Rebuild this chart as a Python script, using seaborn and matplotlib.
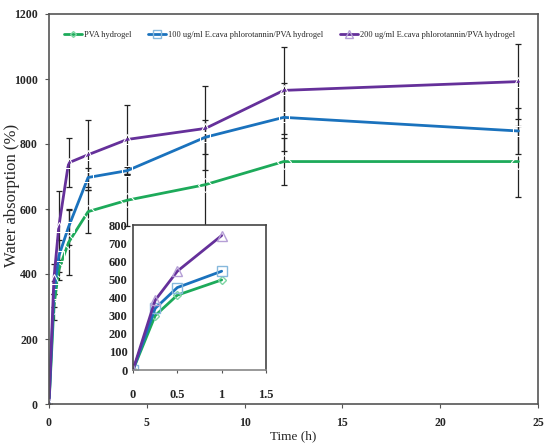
import numpy as np
import pandas as pd
import seaborn as sns
from matplotlib import pyplot as plt

# sampling times (h)
time_h = [0, 0.25, 0.5, 1, 2, 4, 8, 12, 24]

pva = [0, 300, 413, 497, 592, 627, 675, 746, 746]
pva_100 = [0, 340, 455, 545, 697, 718, 821, 882, 840]
pva_200 = [0, 385, 545, 742, 767, 814, 848, 965, 992]

pva_err = [0, 40, 30, 100, 67, 80, 145, 73, 108]
pva_100_err = [0, 40, 50, 55, 28, 12, 52, 105, 70]
pva_200_err = [0, 45, 110, 75, 108, 105, 129, 133, 115]

names = ["PVA hydrogel",
         "100 ug/ml E.cava phlorotannin/PVA hydrogel",
         "200 ug/ml E.cava phlorotannin/PVA hydrogel"]
line_cols = ["#1daa5a", "#1a72bd", "#65309a"]
mk_cols = ["#7fd6a4", "#86b8dc", "#b59fd6"]
markers = ["D", "s", "^"]
msizes = [4, 7, 7]

sns.set_style("white")
plt.rcParams['font.family'] = ['Liberation Serif', 'DejaVu Serif']

df = pd.DataFrame({
    "Time": time_h * 3,
    "Absorption": pva + pva_100 + pva_200,
    "Sample": [names[0]] * 9 + [names[1]] * 9 + [names[2]] * 9,
})

fig = plt.figure(figsize=(5.55, 4.48), dpi=100)
W, H = 555, 448
ax = fig.add_axes([49 / W, (H - 404) / H, (538 - 49) / W, (404 - 14) / H])

# error bars first, under the lines
for vals, errs in [(pva, pva_err), (pva_100, pva_100_err), (pva_200, pva_200_err)]:
    ax.errorbar(time_h, vals, yerr=errs, fmt="none", ecolor="#222222",
                elinewidth=0.9, capsize=2, capthick=0.9, zorder=1)

sns.lineplot(data=df, x="Time", y="Absorption", hue="Sample", style="Sample",
             palette=line_cols, markers=markers, dashes=False, ax=ax,
             linewidth=2, markersize=7, markerfacecolor="none", zorder=2)
for ln, c, s in zip(ax.lines[-3:], mk_cols, msizes):
    ln.set_markeredgecolor(c)
    ln.set_markersize(s)
    ln.set_markeredgewidth(1)

ax.set_xlim(0, 25)
ax.set_ylim(0, 1200)
ax.set_xticks(np.arange(0, 26, 5))
ax.set_yticks(np.arange(0, 1201, 200))
ax.set_xlabel("Time (h)", fontsize=9.5, labelpad=1)
ax.set_ylabel("Water absorption (%)", fontsize=12)
ax.yaxis.set_label_coords(-0.059, 0.536)
ax.tick_params(labelsize=8.5, length=3, width=0.8, color="#555555", direction="out",
               bottom=True, left=True)
ax.tick_params(axis="x", pad=6)
ax.tick_params(axis="y", pad=5)
for t in ax.get_xticklabels() + ax.get_yticklabels():
    t.set_fontweight("bold")
for sp in ax.spines.values():
    sp.set_color("#555555")
    sp.set_linewidth(1.2)

handles, labels = ax.get_legend_handles_labels()
for h, c, s in zip(handles, mk_cols, msizes):
    h.set_markeredgecolor(c)
    h.set_markersize(s - 1)
ax.legend(handles, labels, loc="upper left", ncol=3, frameon=False,
          fontsize=6, handlelength=2.2, handletextpad=0.2, columnspacing=2.0,
          bbox_to_anchor=(0.015, 0.975))

# inset: first hour
ins = fig.add_axes([133 / W, (H - 370) / H, 133 / W, (370 - 225) / H])
sub = df[df["Time"] <= 1]
sns.lineplot(data=sub, x="Time", y="Absorption", hue="Sample", style="Sample",
             palette=line_cols, markers=markers, dashes=False, ax=ins,
             linewidth=2, markersize=7, markerfacecolor="none", legend=False)
for ln, c, s in zip(ins.lines, mk_cols, msizes):
    ln.set_markeredgecolor(c)
    ln.set_markersize(s)
    ln.set_markeredgewidth(1)
ins.set_xlim(0, 1.5)
ins.set_ylim(0, 800)
ins.set_xticks([0, 0.5, 1, 1.5])
ins.set_xticklabels(["0", "0.5", "1", "1.5"])
ins.set_yticks(np.arange(0, 801, 100))
ins.set_xlabel("")
ins.set_ylabel("")
ins.tick_params(labelsize=9, length=2, width=0.8, color="#555555",
                bottom=True, left=False)
ins.tick_params(axis="x", pad=12)
ins.tick_params(axis="y", pad=2)
for t in ins.get_xticklabels() + ins.get_yticklabels():
    t.set_fontweight("bold")
for sp in ins.spines.values():
    sp.set_color("#444444")
    sp.set_linewidth(1.2)
ins.spines["bottom"].set_color("#888888")

fig.savefig("out.png", dpi=100)
